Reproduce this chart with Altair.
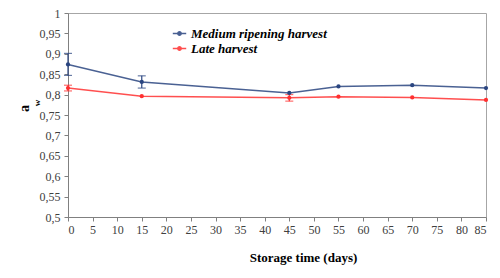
import altair as alt
import pandas as pd

days = [0, 15, 45, 55, 70, 85]
medium = [0.874, 0.831, 0.804, 0.820, 0.823, 0.816]
medium_err = [0.027, 0.015, 0.0, 0.0, 0.0, 0.0]
late = [0.816, 0.796, 0.792, 0.795, 0.793, 0.787]
late_err = [0.007, 0.0, 0.008, 0.0, 0.0, 0.0]
series_names = ["Medium ripening harvest", "Late harvest"]
colors = ["#2a4580", "#ff3030"]

rows = []
for d, v, e in zip(days, medium, medium_err):
    rows.append({"day": d, "aw": v, "lo": v - e, "hi": v + e, "err": e, "series": series_names[0]})
for d, v, e in zip(days, late, late_err):
    rows.append({"day": d, "aw": v, "lo": v - e, "hi": v + e, "err": e, "series": series_names[1]})
df = pd.DataFrame(rows)
df_err = df[df["err"] > 0]

serif = "'Liberation Serif', 'Times New Roman', Times, serif"

x_axis = alt.Axis(values=list(range(0, 90, 5)), grid=False, title="Storage time (days)",
                  titleX=235, titleY=44, titleBaseline="alphabetic", labelPadding=3,
                  labelFont=serif, titleFont=serif)
y_axis = alt.Axis(values=[round(0.5 + 0.05 * i, 2) for i in range(11)], grid=False,
                  labelExpr="replace(format(datum.value, '.2~f'), '.', ',')",
                  title="a", titleFontSize=14, titleX=-37, titleY=95, titleAngle=270,
                  labelPadding=4, labelFont=serif, titleFont=serif)
x_scale = alt.Scale(domain=[0, 85], nice=False)
y_scale = alt.Scale(domain=[0.5, 1.0], nice=False, zero=False)

x = alt.X("day:Q", scale=x_scale, axis=x_axis, title="Storage time (days)")
y = alt.Y("aw:Q", scale=y_scale, axis=y_axis, title="a")

color_scale = alt.Scale(domain=series_names, range=colors)

legend = alt.Legend(title=None, orient="none", legendX=104, legendY=13,
                    symbolType="M-1,0H1M-0.25,0a0.25,0.25 0 1,0 0.5,0a0.25,0.25 0 1,0 -0.5,0",
                    symbolSize=180, symbolStrokeWidth=1.5,
                    labelFont=serif, labelFontSize=13, labelFontWeight="bold",
                    labelFontStyle="italic", labelColor="#000000",
                    rowPadding=0, labelOffset=4)

color = alt.Color("series:N", scale=color_scale, legend=legend, sort=series_names)

lines = alt.Chart(df).mark_line(strokeWidth=1.5, opacity=0.85).encode(x=x, y=y, color=color)

points = alt.Chart(df).mark_point(filled=True, size=18, opacity=1).encode(x=x, y=y, color=color)

errs = alt.Chart(df_err).mark_errorbar(ticks=alt.TickConfig(size=8, thickness=1.2), thickness=1.2).encode(
    x=x,
    y=alt.Y("lo:Q", scale=y_scale, axis=y_axis, title="a"),
    y2="hi:Q",
    color=color,
)

sub = alt.Chart(pd.DataFrame({"t": ["w"]})).mark_text(
    font=serif, fontSize=9, fontWeight="bold", angle=270, color="#000000"
).encode(text="t:N", x=alt.value(-31), y=alt.value(90))

chart = alt.layer(lines, errs, points, sub).properties(
    width=418, height=204,
    autosize=alt.AutoSizeParams(type="none"),
    padding={"left": 60, "top": 5, "right": 6, "bottom": 53},
).configure_view(stroke="#a6a6a6", strokeWidth=1).configure_axis(
    labelFont=serif, labelFontSize=12, labelColor="#404040",
    titleFont=serif, titleFontSize=13, titleFontWeight="bold", titleColor="#000000",
    tickSize=4, tickColor="#808080", domainColor="#808080",
)

chart.save("out.html", embed_options={"renderer": "svg", "actions": False})
